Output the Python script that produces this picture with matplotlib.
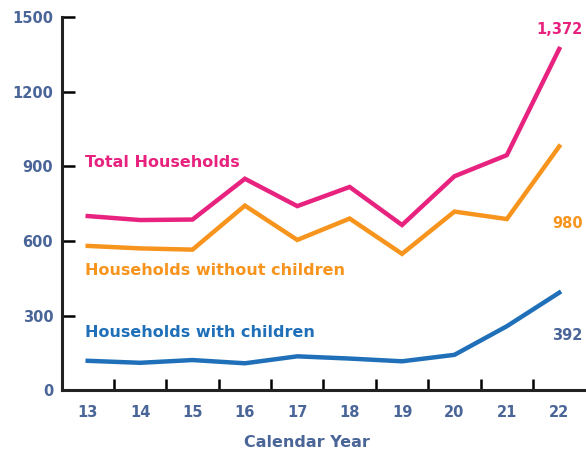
import matplotlib
matplotlib.use("Agg")
from matplotlib import pyplot as plt
from matplotlib.ticker import FixedLocator

years = [13, 14, 15, 16, 17, 18, 19, 20, 21, 22]
total = [700, 684, 686, 850, 740, 817, 664, 860, 945, 1372]
without_children = [580, 570, 565, 742, 604, 690, 548, 718, 688, 980]
with_children = [118, 110, 121, 108, 136, 127, 116, 142, 257, 392]
y_ticks = [0, 300, 600, 900, 1200, 1500]

PINK = "#e8237f"
ORANGE = "#f7941d"
BLUE = "#1f70b8"
LABEL = "#4a6598"

plt.rcParams["font.family"] = ["DejaVu Sans"]

fig = plt.figure(figsize=(5.86, 4.5), dpi=100)
ax = fig.add_axes([0.105, 0.133, 0.894, 0.829])

ax.plot(years, total, color=PINK, linewidth=3.2, solid_joinstyle="miter")
ax.plot(years, without_children, color=ORANGE, linewidth=3.2, solid_joinstyle="miter")
ax.plot(years, with_children, color=BLUE, linewidth=3.2, solid_joinstyle="miter")

ax.set_xlim(12.5, 22.5)
ax.set_ylim(0, 1500)

# labels at category centres, tick marks on the boundaries
ax.set_xticks(years)
ax.set_xticklabels([str(y) for y in years])
ax.xaxis.set_minor_locator(FixedLocator([y + 0.5 for y in years[:-1]]))
ax.tick_params(axis="x", which="major", length=0, pad=11,
               labelsize=10.5, labelcolor=LABEL)
ax.tick_params(axis="x", which="minor", direction="in", length=8, width=1.8)

ax.set_yticks(y_ticks)
ax.tick_params(axis="y", direction="in", length=9, width=1.8, pad=6,
               labelsize=10.5, labelcolor=LABEL)
for lab in ax.get_xticklabels() + ax.get_yticklabels():
    lab.set_fontweight("bold")

for side in ["top", "right"]:
    ax.spines[side].set_visible(False)
for side in ["left", "bottom"]:
    ax.spines[side].set_linewidth(2.2)
    ax.spines[side].set_color("#222222")

ax.set_xlabel("Calendar Year", fontsize=11.5, fontweight="bold", color=LABEL)
ax.xaxis.set_label_coords(0.468, -0.12)

ax.text(12.95, 915, "Total Households", color=PINK, fontsize=11.5, fontweight="bold",
        va="center", ha="left")
ax.text(12.95, 480, "Households without children", color=ORANGE, fontsize=11.5,
        fontweight="bold", va="center", ha="left")
ax.text(12.95, 230, "Households with children", color=BLUE, fontsize=11.5,
        fontweight="bold", va="center", ha="left")

ax.text(22.45, 1450, "{:,}".format(total[-1]), color=PINK, fontsize=10.5,
        fontweight="bold", va="center", ha="right")
ax.text(22.45, 670, "{:,}".format(without_children[-1]), color=ORANGE, fontsize=10.5,
        fontweight="bold", va="center", ha="right")
ax.text(22.45, 220, "{:,}".format(with_children[-1]), color=LABEL, fontsize=10.5,
        fontweight="bold", va="center", ha="right")

fig.savefig("out.png", dpi=100)
